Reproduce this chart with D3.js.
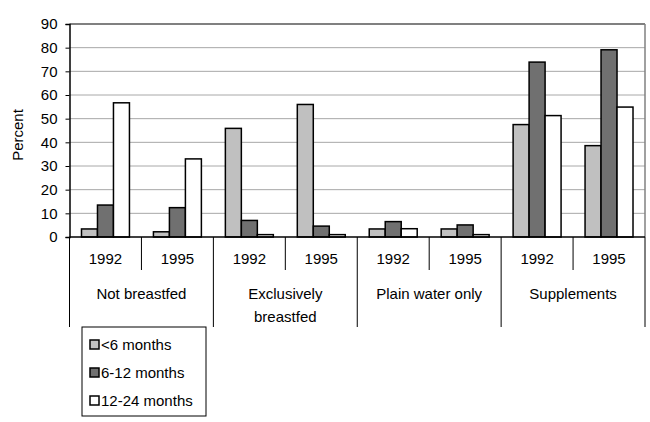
<!DOCTYPE html>
<html>
<head>
<meta charset="utf-8">
<script src="https://cdn.jsdelivr.net/npm/d3@7"></script>
<style>
  body { margin: 0; background: #fff; }
  svg { font-family: "Liberation Sans", Arial, sans-serif; }
</style>
</head>
<body>
<div id="main"></div>
<script>
// chart values
const groups = ['Not breastfed', 'Exclusively\nbreastfed', 'Plain water only', 'Supplements']
const years = ['1992', '1995']
const series = ['<6 months', '6-12 months', '12-24 months']
const under6 = [3.4, 2.2, 45.9, 56, 3.4, 3.4, 47.5, 38.6]
const m6to12 = [13.5, 12.4, 7.0, 4.6, 6.5, 5.1, 73.9, 79.1]
const m12to24 = [56.7, 33, 1.0, 1.0, 3.5, 1.0, 51.3, 54.9]
const yTicks = [0, 10, 20, 30, 40, 50, 60, 70, 80, 90]
const colors = ['#c0c0c0', '#707070', '#ffffff']

const W = 650, H = 422
const plotL = 69.5, plotR = 645, plotT = 24, plotB = 237
const FS = 15

const svg = d3.select('#main').append('svg').attr('width', W).attr('height', H)

const cats = []
groups.forEach(g => years.forEach(y => cats.push(g + '|' + y)))
const rows = cats.map((c, i) => ({ key: c, vals: [under6[i], m6to12[i], m12to24[i]] }))

const x = d3.scaleBand().domain(cats).range([plotL, plotR])
const xs = d3.scaleBand().domain(series).range([0, x.bandwidth()]).paddingInner(0).paddingOuter(0.75)
const y = d3.scaleLinear().domain([0, 90]).range([plotB, plotT])

// gridlines
svg.append('g').selectAll('line').data(yTicks.filter(t => t > 0 && t < 90)).join('line')
  .attr('x1', plotL).attr('x2', plotR).attr('y1', d => y(d)).attr('y2', d => y(d))
  .attr('stroke', '#a8a8a8').attr('stroke-width', 1)

// plot frame top / right
svg.append('line').attr('x1', plotL).attr('x2', plotR).attr('y1', y(90)).attr('y2', y(90))
  .attr('stroke', '#808080').attr('stroke-width', 2)
svg.append('line').attr('x1', plotR).attr('x2', plotR).attr('y1', y(90)).attr('y2', plotB)
  .attr('stroke', '#808080').attr('stroke-width', 1.5)

// bars
const g_bars = svg.append('g')
rows.forEach(r => {
  g_bars.append('g').attr('transform', 'translate(' + x(r.key) + ',0)')
    .selectAll('rect').data(r.vals).join('rect')
    .attr('x', (d, i) => xs(series[i]))
    .attr('y', d => y(d))
    .attr('width', xs.bandwidth())
    .attr('height', d => plotB - y(d))
    .attr('fill', (d, i) => colors[i])
    .attr('stroke', '#000').attr('stroke-width', 1.5)
})

// y axis
const yAxis = svg.append('g').attr('transform', 'translate(' + plotL + ',0)')
  .call(d3.axisLeft(y).tickValues(yTicks).tickSize(4).tickPadding(8))
yAxis.select('.domain').attr('stroke', '#000').attr('stroke-width', 1.5)
yAxis.selectAll('text').attr('font-size', FS).attr('fill', '#000')
  .attr('font-family', '"Liberation Sans", Arial, sans-serif')

svg.append('text').attr('transform', 'translate(23,' + 135 + ') rotate(-90)')
  .attr('text-anchor', 'middle').attr('font-size', FS).text('Percent')

// x axis baseline
svg.append('line').attr('x1', plotL).attr('x2', plotR).attr('y1', plotB).attr('y2', plotB)
  .attr('stroke', '#000').attr('stroke-width', 1.5)

// year ticks and labels
const g_x = svg.append('g')
cats.forEach((c, i) => {
  const xc = x(c)
  const isGroupEdge = i % 2 === 0
  g_x.append('line').attr('x1', xc).attr('x2', xc).attr('y1', plotB)
    .attr('y2', isGroupEdge ? 327 : 270).attr('stroke', '#000').attr('stroke-width', 1)
  g_x.append('text').attr('x', xc + x.bandwidth() / 2).attr('y', 264)
    .attr('text-anchor', 'middle').attr('font-size', FS).text(c.split('|')[1])
})
g_x.append('line').attr('x1', plotR).attr('x2', plotR).attr('y1', plotB).attr('y2', 327)
  .attr('stroke', '#000').attr('stroke-width', 1)

groups.forEach((g, gi) => {
  const x0 = x(g + '|' + years[0])
  const cx = x0 + x.bandwidth()
  const t = g_x.append('text').attr('x', cx).attr('y', 299).attr('text-anchor', 'middle').attr('font-size', FS)
  g.split('\n').forEach((line, li) => {
    t.append('tspan').attr('x', cx).attr('dy', li === 0 ? 0 : 23).text(line)
  })
})

// legend
const lg = svg.append('g').attr('transform', 'translate(82,327)')
lg.append('rect').attr('width', 124).attr('height', 89).attr('fill', '#fff').attr('stroke', '#000').attr('stroke-width', 1)
series.forEach((s, i) => {
  const yy = 17 + i * 28
  lg.append('rect').attr('x', 8).attr('y', yy - 4).attr('width', 9).attr('height', 9)
    .attr('fill', colors[i]).attr('stroke', '#000').attr('stroke-width', 1.5)
  lg.append('text').attr('x', 19).attr('y', yy + 6).attr('font-size', FS).text(s)
})
</script>
</body>
</html>
